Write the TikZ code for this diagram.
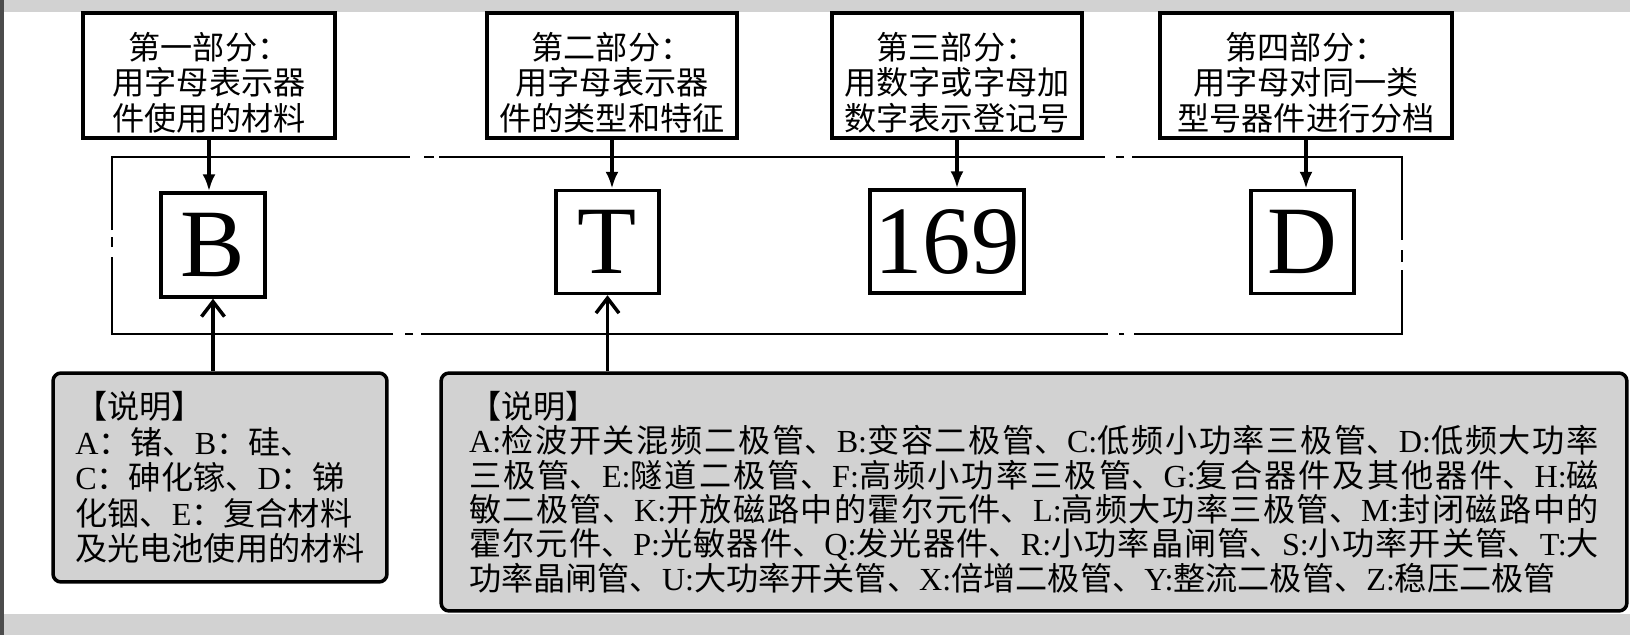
\documentclass[tikz,border=0pt]{standalone}
\usepackage{fontspec}
\setmainfont{Liberation Serif}
\newfontfamily\cjk{Noto Sans CJK SC}
\usetikzlibrary{arrows.meta}
\XeTeXlinebreaklocale "zh"
\XeTeXlinebreakskip=0pt plus 2pt
\newcommand\lat[1]{{\rmfamily#1}}

\tikzset{
  partbox/.style={draw,line width=2pt,minimum height=2.5cm},
  parttext/.style={font=\cjk\fontsize{18.3pt}{20.2pt}\selectfont,align=center,inner sep=0pt},
  codebox/.style={draw,line width=2pt,inner sep=0pt,minimum height=2.06cm,font=\fontsize{55pt}{55pt}\selectfont},
  notebox/.style={draw,line width=2pt,rounded corners=0.16cm,fill=gray!35,font=\cjk\fontsize{18.3pt}{20.2pt}\selectfont},
  breakframe/.style={line width=1.1pt},
  partarrow/.style={line width=2pt,-{Latex[length=3.4mm,width=2.6mm]}},
  notearrow/.style={line width=2pt,-{Straight Barb[length=3mm,width=4.6mm]}}
}

\begin{document}
\begin{tikzpicture}[x=0.02cm,y=-0.02cm]
\useasboundingbox (0,0) rectangle (1630,635);
% page edges
\fill[gray!35] (0,0) rectangle (1630,12);
\fill[gray!35] (0,614) rectangle (1630,635);
\fill[black!70] (0,0) rectangle (4,635);

% the four parts
\node[partbox,minimum width=5.04cm] (top1) at (209,75.5) {};
\node[partbox,minimum width=5cm] (top2) at (612,75.5) {};
\node[partbox,minimum width=5cm] (top3) at (957,75.5) {};
\node[partbox,minimum width=5.84cm] (top4) at (1306,75.5) {};
\node[parttext] (top1txt) at ([yshift=-0.14cm]top1.center) {第一部分：\\用字母表示器\\件使用的材料};
\node[parttext] (top2txt) at ([yshift=-0.14cm]top2.center) {第二部分：\\用字母表示器\\件的类型和特征};
\node[parttext] (top3txt) at ([yshift=-0.14cm]top3.center) {第三部分：\\用数字或字母加\\数字表示登记号};
\node[parttext] (top4txt) at ([yshift=-0.14cm]top4.center) {第四部分：\\用字母对同一类\\型号器件进行分档};

% broken frame round the code
\draw[breakframe] (112,230) -- (112,157) -- (410,157)
  (424,157) -- (434,157)
  (439,157) -- (1105,157)
  (1116,157) -- (1124,157)
  (1132,157) -- (1402,157) -- (1402,240)
  (1402,250) -- (1402,262)
  (1402,270) -- (1402,334) -- (1134,334)
  (1124,334) -- (1119,334)
  (1108,334) -- (421,334)
  (413,334) -- (405,334)
  (393,334) -- (112,334) -- (112,257)
  (112,247) -- (112,237);

% the code
\node[codebox,minimum width=2.08cm,minimum height=2.08cm] (B) at (213,245) {B};
\node[codebox,minimum width=2.06cm] (T) at (607.5,242) {T};
\node[codebox,minimum width=3.08cm] (n169) at (947,241.5) {169};
\node[codebox,minimum width=2.06cm] (D) at (1302.5,242) {D};

% notes
\node[notebox,minimum width=6.68cm,minimum height=4.18cm,align=left] (note1) at (220,477.5)
  {【说明】\\\lat{A}：锗、\lat{B}：硅、\\\lat{C}：砷化镓、\lat{D}：锑\\化铟、\lat{E}：复合材料\\及光电池使用的材料};
\node[notebox,minimum width=23.72cm,minimum height=4.76cm,text width=22.6cm,align=justify,
  font=\cjk\fontsize{18.3pt}{19.6pt}\selectfont] (note2) at (1034,492)
  {【说明】\newline
  \lat{A:}检波开关混频二极管、\lat{B:}变容二极管、\lat{C:}低频小功率三极管、\lat{D:}低频大功率\linebreak
  三极管、\lat{E:}隧道二极管、\lat{F:}高频小功率三极管、\lat{G:}复合器件及其他器件、\lat{H:}磁\linebreak
  敏二极管、\lat{K:}开放磁路中的霍尔元件、\lat{L:}高频大功率三极管、\lat{M:}封闭磁路中的\linebreak
  霍尔元件、\lat{P:}光敏器件、\lat{Q:}发光器件、\lat{R:}小功率晶闸管、\lat{S:}小功率开关管、\lat{T:}大\linebreak
  功率晶闸管、\lat{U:}大功率开关管、\lat{X:}倍增二极管、\lat{Y:}整流二极管、\lat{Z:}稳压二极管};

% arrows
\draw[partarrow] (top1.south) -- (top1.south |- B.north);
\draw[partarrow] (top2.south) -- (top2.south |- T.north);
\draw[partarrow] (top3.south) -- (top3.south |- n169.north);
\draw[partarrow] (top4.south) -- (top4.south |- D.north);
\draw[notearrow] (B.south |- note1.north) -- (B.south);
\draw[notearrow] (T.south |- note2.north) -- (T.south);
\end{tikzpicture}
\end{document}
